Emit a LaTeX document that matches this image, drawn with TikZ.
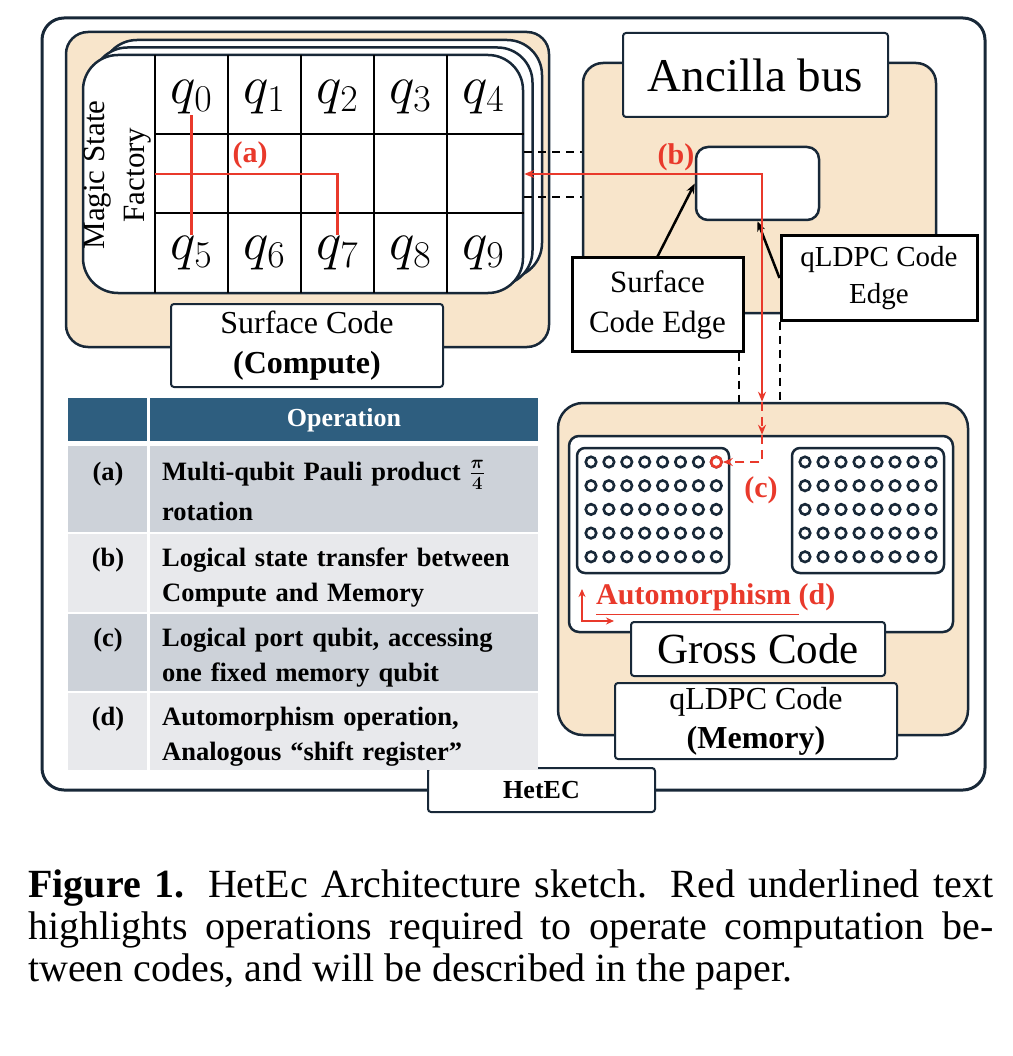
\RequirePackage{fix-cm}
\documentclass[tikz,border=0pt]{standalone}
\usepackage{fontspec}
\setmainfont{Liberation Serif}
\usepackage{amsmath}
\usetikzlibrary{arrows.meta}

\definecolor{hetline}{RGB}{24,40,56}
\definecolor{beige}{RGB}{248,229,203}
\definecolor{hetred}{RGB}{233,57,43}
\definecolor{tabhead}{RGB}{46,94,127}
\definecolor{rowdark}{RGB}{205,210,217}
\definecolor{rowlight}{RGB}{232,233,236}

\begin{document}
\begin{tikzpicture}[x=1pt, y=-1pt, >={Stealth[length=10pt,width=8pt]},
  region/.style={draw=hetline, line width=2.5pt, fill=beige, rounded corners=22pt},
  tag/.style={draw=hetline, line width=2pt, fill=white, rounded corners=3pt, align=center, inner sep=0pt},
  edgebox/.style={draw=black, line width=3pt, fill=white, align=center, inner sep=0pt},
  card/.style={draw=hetline, line width=2.5pt, fill=white, rounded corners=35pt, minimum width=440pt, minimum height=238pt},
  qubit/.style={font=\fontsize{54}{54}\selectfont, inner sep=1pt},
  dot/.style={circle, draw=hetline, line width=2.6pt, minimum size=10.5pt, inner sep=0pt},
  redline/.style={draw=hetred, line width=2.5pt},
  redtag/.style={text=hetred, inner sep=0pt, font=\bfseries\fontsize{30}{30}\selectfont},
  rowtext/.style={anchor=base west, text width=376pt, align=left, inner sep=0pt, font=\bfseries\fontsize{26.5}{35}\selectfont},
  rowlabel/.style={anchor=base, inner sep=0pt, font=\bfseries\fontsize{26.5}{35}\selectfont}]
\useasboundingbox (0,0) rectangle (1012,1056);

\node[draw=hetline, line width=3pt, rounded corners=22pt, minimum width=943pt, minimum height=772pt] (hetec) at (513.5,404) {};
\node[tag, minimum width=227pt, minimum height=44pt, font=\bfseries\fontsize{26}{26}\selectfont] (hetlbl) at (541.5,790) {HetEC};

\node[region, minimum width=483pt, minimum height=315pt] (compute) at (307.5,189.5) {};
\node[card] (card3) at (322,159) {};
\node[card] (card2) at (312.5,166.5) {};
\node[card] (card) at (303,174) {};
\foreach \gx in {155,228,301,374,447}
  \draw[line width=2.5pt] (\gx,55) -- (\gx,293);
\coordinate (rowhi) at (155,134);
\coordinate (rowlo) at (155,213);
\draw[line width=2.5pt] (rowhi) -- (card.east |- rowhi);
\draw[line width=2.5pt] (rowlo) -- (card.east |- rowlo);
\foreach \i in {0,...,4} {
  \pgfmathtruncatemacro\j{\i+5}
  \node[qubit] (q\i) at (191.5+73*\i,97) {$q_{\i}$};
  \node[qubit] (q\j) at (191.5+73*\i,253) {$q_{\j}$};
}
\node[rotate=90, align=center, font=\fontsize{31}{40}\selectfont] (msf) at (118,175) {Magic State\\Factory};

\coordinate (tapa) at (155,174);
\draw[redline] (q0) -- (q5);
\draw[redline] (tapa) -| (q7);
\node[redtag] (taga) at (250,155) {(a)};

\node[tag, minimum width=272pt, minimum height=83pt, font=\fontsize{32}{40}\selectfont] (complbl) at (307,345.5) {Surface Code\\\textbf{(Compute)}};

\node[region, rounded corners=20pt, minimum width=353pt, minimum height=250pt] (ancilla) at (759.5,188) {};
\node[tag, minimum width=265pt, minimum height=84pt, font=\fontsize{47}{47}\selectfont] (anclbl) at (755.5,75) {Ancilla bus};
\node[draw=hetline, line width=2.5pt, fill=white, rounded corners=12pt, minimum width=123pt, minimum height=73pt] (bus) at (757.5,183.5) {};
\node[edgebox, minimum width=171pt, minimum height=93pt, font=\fontsize{31}{40}\selectfont] (scedge) at (657.5,304.5) {Surface\\Code Edge};
\node[edgebox, minimum width=196pt, minimum height=84pt, font=\fontsize{29}{37}\selectfont] (qedge) at (879,278) {qLDPC Code\\Edge};
\draw[->, line width=2.5pt] (scedge.north) -- (bus.west);
\draw[->, line width=2.5pt] (qedge.west) -- (bus.south);

\coordinate (dashhi) at (550,152);
\coordinate (dashlo) at (550,197);
\draw[line width=2pt, dash pattern=on 8pt off 6pt] (card.east |- dashhi) -- (ancilla.west |- dashhi);
\draw[line width=2pt, dash pattern=on 8pt off 6pt] (card.east |- dashlo) -- (ancilla.west |- dashlo);

\node[region, rounded corners=25pt, minimum width=410pt, minimum height=332pt] (memory) at (763,569) {};
\node[draw=hetline, line width=2.5pt, fill=white, rounded corners=10pt, minimum width=384pt, minimum height=196pt] (memin) at (761,534) {};
\node[draw=hetline, line width=2.5pt, rounded corners=8pt, minimum width=152pt, minimum height=125pt] (blockl) at (653,510.5) {};
\node[draw=hetline, line width=2.5pt, rounded corners=8pt, minimum width=152pt, minimum height=125pt] (blockr) at (868,510.5) {};
\foreach \i in {0,...,7}
  \foreach \j in {0,...,4} {
    \node[dot] (l\i\j) at (591+17.9*\i,462+23.7*\j) {};
    \node[dot] (r\i\j) at (805+18*\i,462+23.7*\j) {};
  }
\node[dot, draw=hetred, fill=white] (port) at (l70) {};
\node[tag, minimum width=254pt, minimum height=54pt, font=\fontsize{43}{43}\selectfont] (gross) at (758,649) {Gross Code};
\node[tag, minimum width=282pt, minimum height=76pt, font=\fontsize{32}{39}\selectfont] (memlbl) at (756,721) {qLDPC Code\\\textbf{(Memory)}};

\coordinate (scfoot) at ([xshift=-6pt]scedge.south east);
\draw[line width=2pt, dash pattern=on 8pt off 6pt] (scfoot) -- (scfoot |- memory.north);
\draw[line width=2pt, dash pattern=on 8pt off 6pt] (qedge.south west) -- (qedge.south west |- memory.north);

\coordinate (turn) at (762,174);
\draw[redline, <->] (card.east |- turn) -- (turn) -- (turn |- memory.north);
\draw[redline, dash pattern=on 9pt off 6pt, ->] (turn |- memory.north) -- (turn |- memin.north);
\draw[redline, dash pattern=on 9pt off 6pt, ->] (turn |- memin.north) |- (port);
\node[redtag] (tagb) at (676,157) {(b)};
\node[redtag] (tagc) at (761,490) {(c)};

\node[redtag, anchor=west, font=\bfseries\fontsize{30}{30}\selectfont] (autom) at (596,600) {\underline{Automorphism\ }(d)};
\coordinate (axes) at (582,621);
\draw[redline, line width=2pt, <->, >={Stealth[length=8pt,width=7pt]}] ([yshift=32pt]axes) -- (axes) -- ([xshift=32pt]axes);

\fill[tabhead] (68,398) rectangle (147,441);
\fill[tabhead] (150,398) rectangle (538,441);
\node[text=white, font=\bfseries\fontsize{26}{26}\selectfont] (ophead) at (344,420) {Operation};
\foreach \top/\bot/\shade in {446/532/rowdark, 534/612/rowlight, 614/691/rowdark, 693/770/rowlight} {
  \fill[\shade] (68,\top) rectangle (147,\bot);
  \fill[\shade] (150,\top) rectangle (538,\bot);
}
\node[rowlabel] (la) at (108,480) {(a)};
\node[rowtext] (ta) at (162,480) {Multi-qubit Pauli product {\boldmath$\frac{\pi}{4}$}\\[5pt]rotation};
\node[rowlabel] (lb) at (108,566) {(b)};
\node[rowtext] (tb) at (162,566) {Logical state transfer between\\Compute and Memory};
\node[rowlabel] (lc) at (108,646) {(c)};
\node[rowtext] (tc) at (162,646) {Logical port qubit, accessing\\one fixed memory qubit};
\node[rowlabel] (ld) at (108,725) {(d)};
\node[rowtext] (td) at (162,725) {Automorphism operation,\\Analogous “shift register”};

\node[anchor=north west, text width=965pt, align=justify, inner sep=0pt, font=\fontsize{40}{42}\selectfont] (caption) at (28,870) {\textbf{Figure 1.} HetEc Architecture sketch. Red underlined text\linebreak highlights operations required to operate computation be-\linebreak tween codes, and will be described in the paper.};
\end{tikzpicture}
\end{document}
